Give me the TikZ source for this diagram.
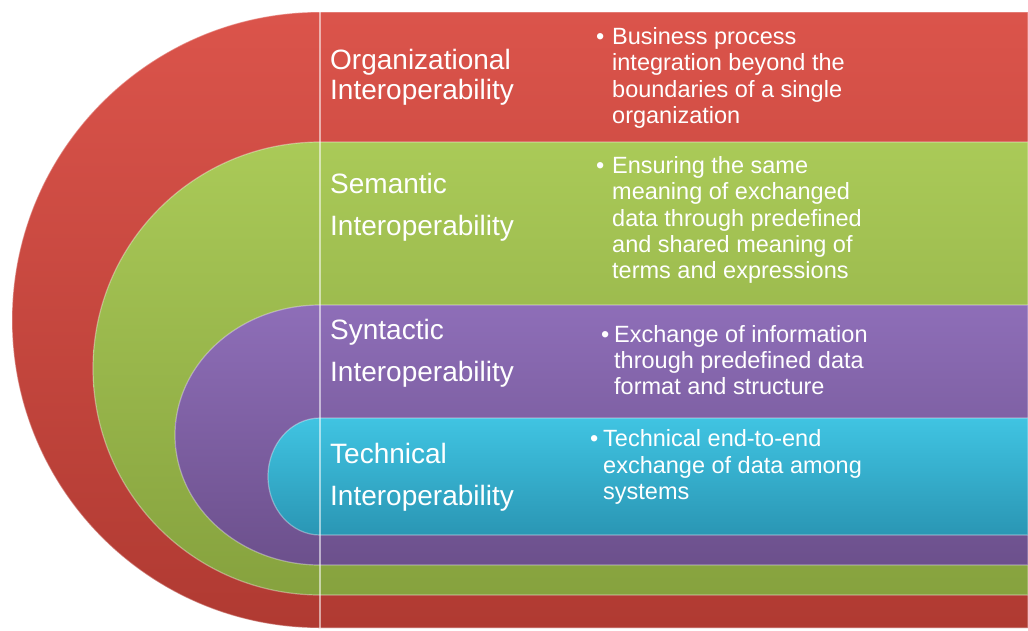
\documentclass[tikz,border=0pt]{standalone}
\usepackage{fontspec}
\setmainfont{Liberation Sans}
\definecolor{redT}{RGB}{219,84,75}
\definecolor{redB}{RGB}{176,58,50}
\definecolor{grnT}{RGB}{170,202,88}
\definecolor{grnB}{RGB}{134,162,62}
\definecolor{purT}{RGB}{142,110,184}
\definecolor{purB}{RGB}{108,80,140}
\definecolor{cyaT}{RGB}{64,196,226}
\definecolor{cyaB}{RGB}{42,150,180}
\newcommand\mybul[1]{\makebox[#1][l]{\textbullet}}
\newcommand\myind[1]{\hspace*{#1}}
\begin{document}
\begin{tikzpicture}[x=1pt,y=-1pt,
  bandedge/.style={draw=white, draw opacity=0.35, line width=1.2pt},
  lab/.style={text=white, inner sep=0pt, anchor=west, align=left},
  desc/.style={text=white, inner sep=0pt, anchor=west, align=left,
    font=\fontsize{23.5}{26.2}\selectfont},
  divider/.style={draw=white, draw opacity=0.55, line width=1.2pt}]
\useasboundingbox (0,0) rectangle (1028,630);
% bands
\path[bandedge, top color=redT, bottom color=redB]
  (1028,12) -- (320,12) arc[start angle=270, end angle=90, x radius=308, y radius=308] -- (1028,628) -- cycle;
\path[bandedge, top color=grnT, bottom color=grnB]
  (1028,142) -- (320,142) arc[start angle=270, end angle=90, x radius=227, y radius=226.5] -- (1028,595) -- cycle;
\path[bandedge, top color=purT, bottom color=purB]
  (1028,305) -- (320,305) arc[start angle=270, end angle=90, x radius=145, y radius=130] -- (1028,565) -- cycle;
\path[bandedge, top color=cyaT, bottom color=cyaB]
  (1028,418) -- (320,418) arc[start angle=270, end angle=90, x radius=52, y radius=58.5] -- (1028,535) -- cycle;
% divider
\coordinate (dtop) at (320,12);
\coordinate (dbot) at (320,628);
\draw[divider] (dtop) -- (dbot);
% labels
\node[lab, font=\fontsize{28}{30}\selectfont] (orgL) at (330,77) {Organizational\\Interoperability};
\node[lab, font=\fontsize{28}{42}\selectfont] (semL) at (330,207) {Semantic\\Interoperability};
\node[lab, font=\fontsize{28}{42}\selectfont] (synL) at (330,353) {Syntactic\\Interoperability};
\node[lab, font=\fontsize{28}{42}\selectfont] (tecL) at (330,477) {Technical\\Interoperability};
% descriptions
\node[desc] (orgR) at (596,78) {\mybul{16pt}Business process\\\myind{16pt}integration beyond the\\\myind{16pt}boundaries of a single\\\myind{16pt}organization};
\node[desc] (semR) at (596,220) {\mybul{16pt}Ensuring the same\\\myind{16pt}meaning of exchanged\\\myind{16pt}data through predefined\\\myind{16pt}and shared meaning of\\\myind{16pt}terms and expressions};
\node[desc] (synR) at (601,360) {\mybul{13pt}Exchange of information\\\myind{13pt}through predefined data\\\myind{13pt}format and structure};
\node[desc] (tecR) at (590,467) {\mybul{13pt}Technical end-to-end\\\myind{13pt}exchange of data among\\\myind{13pt}systems};
\end{tikzpicture}
\end{document}
